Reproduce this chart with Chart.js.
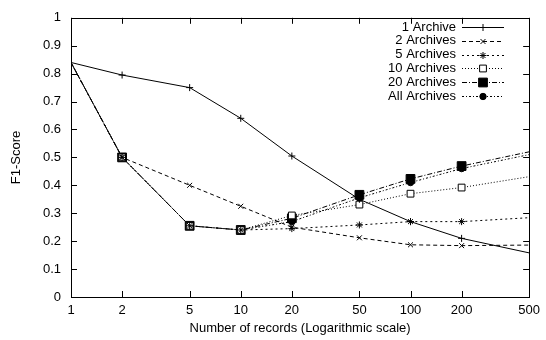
<!DOCTYPE html>
<html><head><meta charset="utf-8">
<script src="https://cdn.jsdelivr.net/npm/chart.js@4"></script>
<style>html,body{margin:0;padding:0;background:#fff}#w{width:546px;height:340px}</style>
</head><body><div id="w"><canvas id="c"></canvas></div>
<script>
const records = [1, 2, 5, 10, 20, 50, 100, 200, 500];
const xTickLabels = [1, 2, 5, 10, 20, 50, 100, 200, 500];
const yTickLabels = [0, 0.1, 0.2, 0.3, 0.4, 0.5, 0.6, 0.7, 0.8, 0.9, 1];
const seriesNames = ["1 Archive", "2 Archives", "5 Archives", "10 Archives", "20 Archives", "All Archives"];
const archive1 = [0.84, 0.795, 0.75, 0.64, 0.505, 0.35, 0.27, 0.21, 0.158];
const archives2 = [0.84, 0.50, 0.40, 0.325, 0.25, 0.212, 0.187, 0.184, 0.186];
const archives5 = [0.84, 0.50, 0.255, 0.24, 0.245, 0.258, 0.27, 0.27, 0.284];
const archives10 = [0.84, 0.50, 0.255, 0.24, 0.292, 0.331, 0.37, 0.392, 0.431];
const archives20 = [0.84, 0.50, 0.255, 0.24, 0.282, 0.366, 0.423, 0.469, 0.52];
const archivesAll = [0.84, 0.50, 0.255, 0.24, 0.27, 0.355, 0.41, 0.46, 0.51];

const FONT = '"Liberation Sans", Arial, sans-serif';
const styles = [
  {dash: [], point: 'cross', r: 3.5, fill: false},
  {dash: [4, 3], point: 'crossRot', r: 3.5, fill: false},
  {dash: [2, 3], point: 'star', r: 3.5, fill: false},
  {dash: [1, 2], point: 'rect', r: 4.8, fill: false},
  {dash: [5, 2, 1, 2], point: 'rect', r: 6.2, fill: true},
  {dash: [2, 2, 1, 2], point: 'circle', r: 3.2, fill: true}
];
const allData = [archive1, archives2, archives5, archives10, archives20, archivesAll];

const datasets = allData.map((vals, i) => ({
  label: seriesNames[i],
  data: records.map((x, j) => ({x: x, y: vals[j]})),
  borderColor: '#000',
  borderWidth: 1,
  borderDash: styles[i].dash,
  pointStyle: styles[i].point,
  pointRadius: records.map((x, j) => (j === 0 || j === records.length - 1) ? 0 : styles[i].r),
  pointBorderColor: '#000',
  pointBorderWidth: 1,
  pointBackgroundColor: styles[i].fill ? '#000' : '#fff',
  tension: 0,
  fill: false
}));

const frame = {
  id: 'frame',
  afterDatasetsDraw(chart) {
    const {ctx, chartArea: a, scales: {x, y}} = chart;
    ctx.save();
    ctx.strokeStyle = '#000';
    ctx.lineWidth = 1;
    ctx.setLineDash([]);
    ctx.strokeRect(Math.round(a.left) + 0.5, Math.round(a.top) + 0.5, Math.round(a.right - a.left), Math.round(a.bottom - a.top));
    const L = 6;
    ctx.beginPath();
    xTickLabels.forEach(v => {
      const px = Math.round(x.getPixelForValue(v)) + 0.5;
      ctx.moveTo(px, a.bottom); ctx.lineTo(px, a.bottom - L);
      ctx.moveTo(px, a.top); ctx.lineTo(px, a.top + L);
    });
    yTickLabels.forEach(v => {
      const py = Math.round(y.getPixelForValue(v)) + 0.5;
      ctx.moveTo(a.left, py); ctx.lineTo(a.left + L, py);
      ctx.moveTo(a.right, py); ctx.lineTo(a.right - L, py);
    });
    ctx.stroke();
    // legend
    ctx.font = '13px ' + FONT;
    ctx.textAlign = 'right';
    ctx.textBaseline = 'middle';
    ctx.fillStyle = '#000';
    chart.data.datasets.forEach((ds, i) => {
      const yy = 27 + i * 13.8;
      ctx.fillText(ds.label, 456, yy);
      ctx.save();
      ctx.setLineDash(ds.borderDash);
      ctx.beginPath();
      ctx.moveTo(462, Math.round(yy) + 0.5); ctx.lineTo(504, Math.round(yy) + 0.5);
      ctx.stroke();
      ctx.restore();
      ctx.save();
      ctx.setLineDash([]);
      ctx.fillStyle = ds.pointBackgroundColor;
      ctx.strokeStyle = '#000';
      ctx.lineWidth = 1;
      Chart.helpers.drawPoint(ctx, {pointStyle: ds.pointStyle, radius: styles[i].r, rotation: 0, borderWidth: 1}, 483, Math.round(yy) + 0.5);
      ctx.restore();
    });
    ctx.restore();
  }
};

new Chart(document.getElementById('c'), {
  type: 'line',
  data: {datasets},
  options: {
    responsive: true,
    maintainAspectRatio: false,
    animation: false,
    devicePixelRatio: 1,
    layout: {padding: {top: 14, right: 12, left: 0, bottom: 0}},
    plugins: {legend: {display: false}, tooltip: {enabled: false}},
    scales: {
      x: {
        type: 'logarithmic', min: 1, max: 500,
        afterBuildTicks(s) { s.ticks = xTickLabels.map(v => ({value: v})); },
        afterFit(s) { s.height = 43; },
        grid: {display: false, drawTicks: false},
        border: {display: false},
        ticks: {color: '#000', font: {family: FONT, size: 13}, padding: 6, maxRotation: 0, autoSkip: false,
          callback: (v) => String(v)},
        title: {display: true, text: 'Number of records (Logarithmic scale)', color: '#000', font: {family: FONT, size: 13}, padding: {top: 0, bottom: 4}}
      },
      y: {
        type: 'linear', min: 0, max: 1,
        afterBuildTicks(s) { s.ticks = yTickLabels.map(v => ({value: v})); },
        afterFit(s) { s.width = 71; },
        grid: {display: false, drawTicks: false},
        border: {display: false},
        ticks: {color: '#000', font: {family: FONT, size: 13}, padding: 10, callback: (v) => String(v)},
        title: {display: true, text: 'F1-Score', color: '#000', font: {family: FONT, size: 13}, padding: {top: 9, bottom: 0}}
      }
    }
  },
  plugins: [frame]
});
</script></body></html>
